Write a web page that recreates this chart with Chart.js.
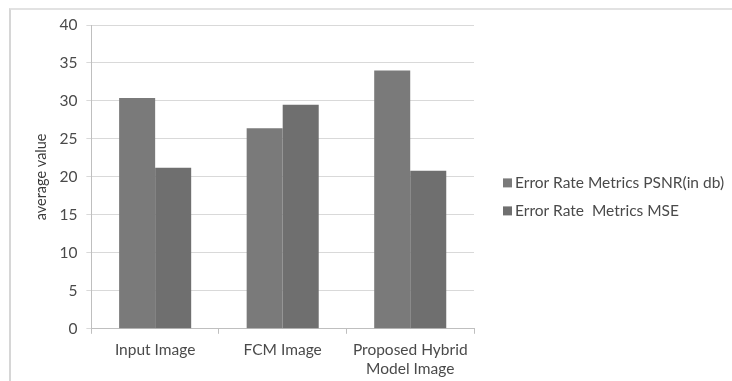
<!DOCTYPE html>
<html>
<head>
<meta charset="utf-8">
<script src="https://cdn.jsdelivr.net/npm/chart.js@4"></script>
<style>
  html, body { margin: 0; padding: 0; background: #fff; }
  #wrap { position: relative; width: 732px; height: 381px; }
  #frame {
    position: absolute; left: 9px; top: 8px; right: 0; bottom: 0;
    border-left: 2px solid #d6d6d6; border-top: 2px solid #e2e2e2;
    pointer-events: none;
  }
</style>
</head>
<body>
<div id="wrap">
  <canvas id="chart" width="732" height="381"></canvas>
  <div id="frame"></div>
</div>
<script>
const categories = ["Input Image", "FCM Image", ["Proposed Hybrid", "Model Image"]];
const psnrValues = [30.4, 26.4, 34.0];
const mseValues = [21.2, 29.5, 20.8];
const yTicks = [0, 5, 10, 15, 20, 25, 30, 35, 40];

const textColor = "#4a4a4a";
const fontFamily = "Lato, 'Open Sans', sans-serif";

// legend drawn to the right of the plot (the built-in one gets squeezed)
const sideLegend = {
  id: "sideLegend",
  afterDraw(chart) {
    const { ctx, chartArea } = chart;
    const x = chartArea.right + 29;
    const midY = (chartArea.top + chartArea.bottom) / 2;
    ctx.save();
    ctx.font = "15.5px " + fontFamily;
    ctx.textBaseline = "middle";
    chart.data.datasets.forEach((ds, i) => {
      const y = midY + 6 + i * 28;
      ctx.fillStyle = ds.backgroundColor;
      ctx.fillRect(x, y - 4.5, 9, 9);
      ctx.fillStyle = textColor;
      ctx.fillText(ds.label, x + 12, y + 0.5);
    });
    ctx.restore();
  }
};

const ctx = document.getElementById("chart").getContext("2d");

new Chart(ctx, {
  type: "bar",
  data: {
    labels: categories,
    datasets: [
      {
        label: "Error Rate Metrics PSNR(in db)",
        data: psnrValues,
        backgroundColor: "#7a7a7a",
        borderWidth: 0
      },
      {
        label: "Error Rate  Metrics MSE",
        data: mseValues,
        backgroundColor: "#6f6f6f",
        borderWidth: 0
      }
    ]
  },
  plugins: [sideLegend],
  options: {
    responsive: false,
    animation: false,
    events: [],
    layout: {
      padding: { left: 33, top: 25, right: 258, bottom: 3 }
    },
    datasets: {
      bar: { barPercentage: 1, categoryPercentage: 0.565 }
    },
    plugins: {
      tooltip: { enabled: false },
      legend: { display: false }
    },
    scales: {
      x: {
        // tick padding is counted twice in the height, take the extra back
        afterFit: (scale) => {
          scale.height -= 7;
        },
        grid: {
          display: true,
          drawOnChartArea: false,
          tickLength: 5,
          color: "#bfbfbf"
        },
        border: { color: "#bfbfbf" },
        ticks: {
          color: textColor,
          padding: 7,
          maxRotation: 0,
          font: { family: fontFamily, size: 15.5, lineHeight: 1.2 }
        }
      },
      y: {
        min: 0,
        max: 40,
        afterBuildTicks: (axis) => {
          axis.ticks = yTicks.map((v) => ({ value: v }));
        },
        grid: { color: "#d9d9d9", tickLength: 5 },
        border: { color: "#bfbfbf" },
        ticks: {
          color: textColor,
          padding: 9,
          font: { family: fontFamily, size: 15.5 }
        },
        title: {
          display: true,
          text: "average value",
          color: "#3a3a3a",
          padding: { top: 0, bottom: 0 },
          font: { family: fontFamily, size: 14.5 }
        }
      }
    }
  }
});
</script>
</body>
</html>
